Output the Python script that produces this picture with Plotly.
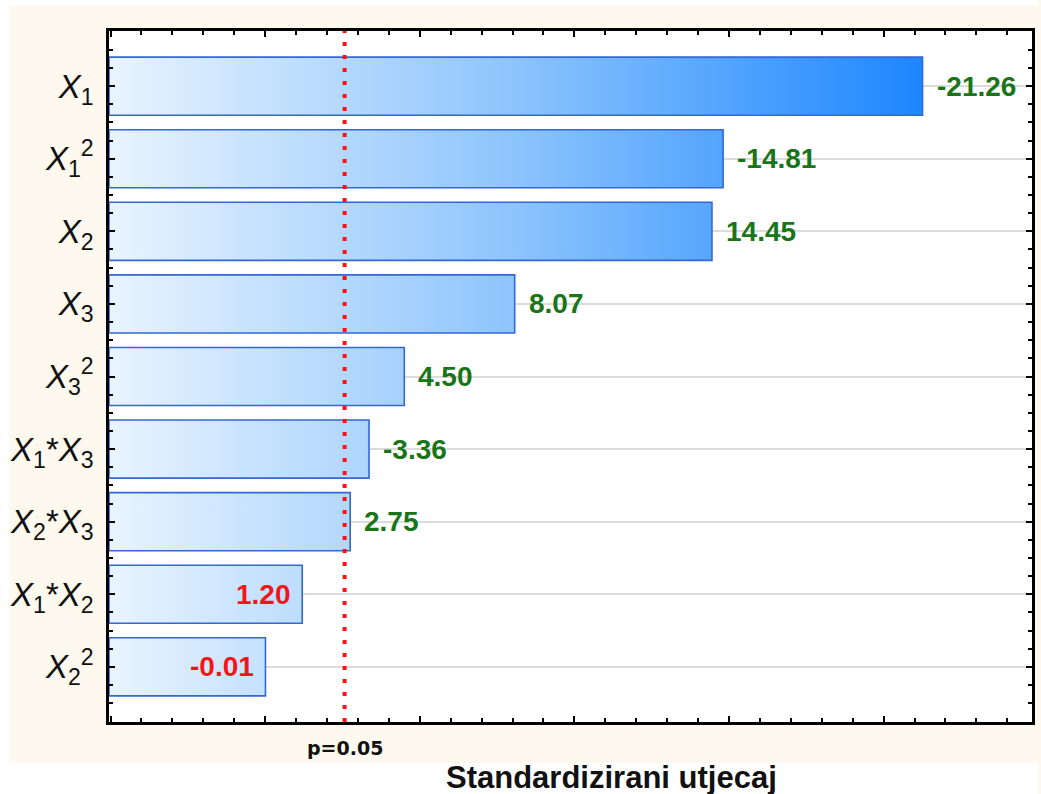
import plotly.graph_objects as go

# ---- data ----
factors = ["<i>X</i><sub>1</sub>", "<i>X</i><sub>1</sub><sup>2</sup>", "<i>X</i><sub>2</sub>",
           "<i>X</i><sub>3</sub>", "<i>X</i><sub>3</sub><sup>2</sup>",
           "<i>X</i><sub>1</sub>*<i>X</i><sub>3</sub>", "<i>X</i><sub>2</sub>*<i>X</i><sub>3</sub>",
           "<i>X</i><sub>1</sub>*<i>X</i><sub>2</sub>", "<i>X</i><sub>2</sub><sup>2</sup>"]
effects = [-21.26, -14.81, 14.45, 8.07, 4.50, -3.36, 2.75, 1.20, -0.01]
p_crit = 2.57
x_range = [-5.05, 24.8]

# ---- layout geometry helpers (pixels -> paper) ----
W, H = 1041, 794
ML, MR, MT, MB = 109, 6, 31, 72
PW, PH = W - ML - MR, H - MT - MB


def px_x(p):
    return (p - ML) / PW


def px_y(p):
    return (H - MB - p) / PH


CREAM = "#fdf9ee"
GREEN = "#187518"
RED = "#f5141a"
EDGE = "#3467d4"

fig = go.Figure()

base = x_range[0]
half = 0.4
for i, v in enumerate(effects):
    a = abs(v)
    fig.add_trace(go.Scatter(
        x=[base, a, a, base, base],
        y=[i - half, i - half, i + half, i + half, i - half],
        mode="lines", fill="toself",
        fillgradient=dict(type="horizontal",
                          colorscale=[[0, "#e9f4fe"], [0.5, "#8cc4fd"], [1, "#1c86ff"]],
                          start=base, stop=max(abs(e) for e in effects)),
        line=dict(color=EDGE, width=1.6),
        hoverinfo="skip", showlegend=False,
    ))

# value labels
for i, v in enumerate(effects):
    a = abs(v)
    significant = a > p_crit
    fig.add_annotation(
        x=a, y=i, xref="x", yref="y",
        text=f"<b>{v:.2f}</b>",
        showarrow=False,
        xanchor="left" if significant else "right",
        xshift=12 if significant else -9,
        font=dict(family="Liberation Sans, Arial", size=28, color=GREEN if significant else RED),
    )

# p=0.05 label
fig.add_annotation(x=p_crit, xref="x", y=px_y(748), yref="paper", text="<b>p=0.05</b>",
                   showarrow=False, xanchor="center", yanchor="middle",
                   font=dict(family="DejaVu Sans", size=19, color="#111111"))

# axis title
fig.add_annotation(x=px_x(613), xref="paper", y=px_y(777), yref="paper",
                   text="<b>Standardizirani utjecaj</b>", showarrow=False,
                   xanchor="center", yanchor="middle",
                   font=dict(family="Liberation Sans, Arial", size=31, color="#111111"))

# p line
fig.add_shape(type="line", x0=p_crit, x1=p_crit, xref="x", y0=0, y1=1, yref="paper",
              line=dict(color="#ff1010", width=4, dash="4px,9px"), layer="above")

# white outer strips (paper bg is cream)
for (x0, x1, y0, y1) in [(0, W, 0, 6), (0, 9, 0, H), (0, W, 763, H)]:
    fig.add_shape(type="rect", xref="paper", yref="paper",
                  x0=px_x(x0), x1=px_x(x1), y0=px_y(y1), y1=px_y(y0),
                  fillcolor="white", line=dict(width=0), layer="below")

fig.update_xaxes(range=x_range, showticklabels=False, showgrid=False, zeroline=False,
                 showline=True, linecolor="black", linewidth=2.5, mirror="ticks",
                 ticks="inside", ticklen=6, tickwidth=2, tickcolor="black",
                 tick0=0, dtick=5,
                 minor=dict(ticks="inside", ticklen=4, tickwidth=2, tickcolor="black",
                            dtick=1, tick0=0, showgrid=False))

fig.update_yaxes(range=[len(effects) - 1 + 0.76, -0.76], tickmode="array",
                 tickvals=list(range(len(factors))), ticktext=factors,
                 showgrid=True, gridcolor="#dcdcdc", gridwidth=1.5, zeroline=False,
                 showline=True, linecolor="black", linewidth=2.5, mirror="ticks",
                 ticks="inside", ticklen=6, tickwidth=2, tickcolor="black",
                 ticklabelstandoff=6,
                 tickfont=dict(family="Liberation Sans, Arial", size=33, color="#111111"),
                 minor=dict(ticks="inside", ticklen=4, tickwidth=2, tickcolor="black",
                            dtick=0.25, tick0=0, showgrid=False))

fig.update_layout(
    width=W, height=H,
    margin=dict(l=ML, r=MR, t=MT, b=MB, pad=0),
    paper_bgcolor=CREAM, plot_bgcolor="white",
    showlegend=False,
)

fig.write_html("out.html")
